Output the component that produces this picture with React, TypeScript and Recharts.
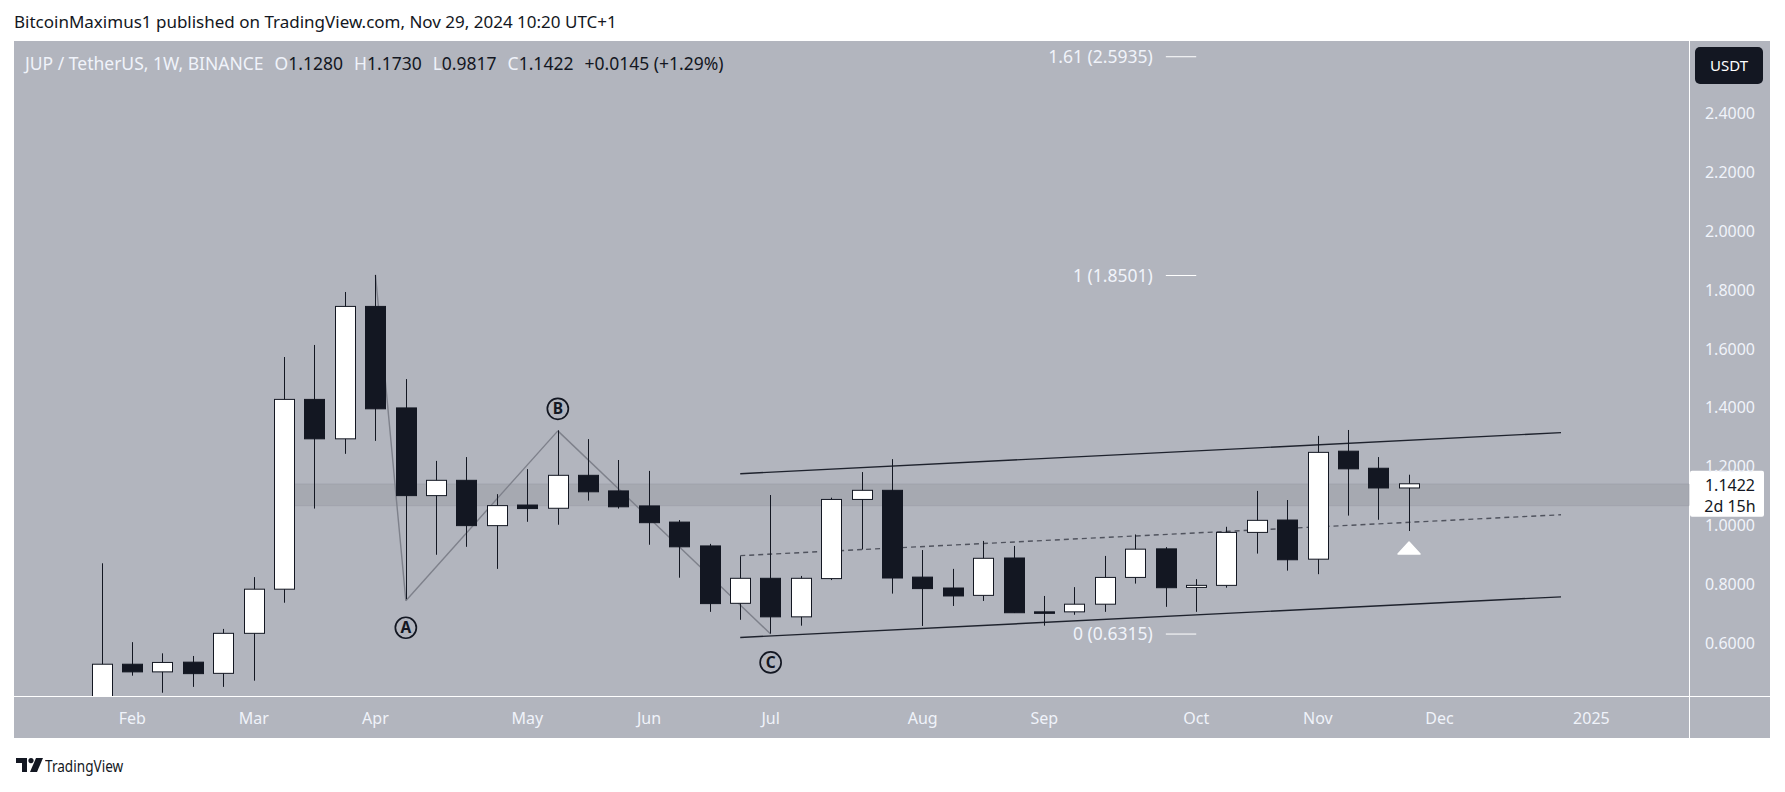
import React from "react";
import {
  ComposedChart,
  Bar,
  XAxis,
  YAxis,
  ReferenceLine,
  ReferenceArea,
  ReferenceDot,
} from "recharts";

// weekly candles, JUP / TetherUS, Binance (week start dates)
const weeks = [
  "2024-01-29", "2024-02-05", "2024-02-12", "2024-02-19", "2024-02-26",
  "2024-03-04", "2024-03-11", "2024-03-18", "2024-03-25", "2024-04-01",
  "2024-04-08", "2024-04-15", "2024-04-22", "2024-04-29", "2024-05-06",
  "2024-05-13", "2024-05-20", "2024-05-27", "2024-06-03", "2024-06-10",
  "2024-06-17", "2024-06-24", "2024-07-01", "2024-07-08", "2024-07-15",
  "2024-07-22", "2024-07-29", "2024-08-05", "2024-08-12", "2024-08-19",
  "2024-08-26", "2024-09-02", "2024-09-09", "2024-09-16", "2024-09-23",
  "2024-09-30", "2024-10-07", "2024-10-14", "2024-10-21", "2024-10-28",
  "2024-11-04", "2024-11-11", "2024-11-18", "2024-11-25",
]

const opens = [
  0.4, 0.529, 0.503, 0.536, 0.498, 0.634, 0.784, 1.429, 1.295, 1.745,
  1.4, 1.102, 1.154, 1.0, 1.07, 1.059, 1.171, 1.118, 1.067, 1.012,
  0.931, 0.736, 0.821, 0.69, 0.82, 1.089, 1.12, 0.825, 0.788, 0.763,
  0.89, 0.707, 0.707, 0.733, 0.824, 0.921, 0.79, 0.797, 0.977, 1.019,
  0.886, 1.253, 1.195, 1.128,
]
const highs = [
  0.872, 0.604, 0.566, 0.557, 0.649, 0.825, 1.573, 1.614, 1.794, 1.852,
  1.498, 1.22, 1.233, 1.107, 1.192, 1.324, 1.294, 1.223, 1.186, 1.019,
  0.938, 0.896, 1.104, 0.829, 1.095, 1.182, 1.226, 0.917, 0.853, 0.948,
  0.931, 0.761, 0.791, 0.897, 0.97, 0.927, 0.818, 0.996, 1.118, 1.087,
  1.305, 1.325, 1.233, 1.173,
]
const lows = [
  0.38, 0.49, 0.432, 0.452, 0.452, 0.473, 0.738, 1.058, 1.244, 1.288,
  0.75, 0.901, 0.928, 0.853, 1.013, 1.003, 1.085, 1.058, 0.935, 0.823,
  0.707, 0.68, 0.633, 0.66, 0.815, 0.919, 0.769, 0.659, 0.727, 0.744,
  0.703, 0.66, 0.697, 0.707, 0.803, 0.724, 0.707, 0.789, 0.905, 0.847,
  0.835, 1.034, 1.02, 0.9817,
]
const closes = [
  0.529, 0.503, 0.535, 0.497, 0.634, 0.784, 1.429, 1.295, 1.745, 1.397,
  1.102, 1.154, 1.0, 1.068, 1.058, 1.171, 1.115, 1.064, 1.01, 0.928,
  0.735, 0.821, 0.69, 0.821, 1.089, 1.12, 0.822, 0.786, 0.761, 0.889,
  0.704, 0.704, 0.733, 0.824, 0.92, 0.789, 0.797, 0.977, 1.018, 0.884,
  1.249, 1.193, 1.128, 1.1422,
]

// time axis: bar index of the first week of each month
const monthTicks = [1, 5, 9, 14, 18, 22, 27, 31, 36, 40, 44, 49]
const monthLabels = ["Feb", "Mar", "Apr", "May", "Jun", "Jul", "Aug", "Sep", "Oct", "Nov", "Dec", "2025"]

const priceTicks = [0.6, 0.8, 1.0, 1.2, 1.4, 1.6, 1.8, 2.0, 2.2, 2.4]

// drawings: [bar index, price]
const channelTop = [[21, 1.1765], [48, 1.316]]
const channelBottom = [[21, 0.62], [48, 0.758]]
const channelMid = [[21, 0.898], [48, 1.037]]
const abcPath = [[9, 1.852], [10, 0.745], [15, 1.322], [22, 0.6315]]
const abcLabels = [
  { text: "A", x: 10, y: 0.653 },
  { text: "B", x: 15, y: 1.397 },
  { text: "C", x: 22, y: 0.535 },
]
const fibLevels = [
  { ratio: "1.61", price: 2.5935 },
  { ratio: "1", price: 1.8501 },
  { ratio: "0", price: 0.6315 },
]
const zone = [1.0677, 1.1415]

const data = weeks.map((week, i) => ({
  i,
  week,
  open: opens[i],
  high: highs[i],
  low: lows[i],
  close: closes[i],
  range: [lows[i], highs[i]],
}))
const last = data[data.length - 1]

const INK = "#131722"
const PANEL = "#b2b5be"
const LIGHT = "#f0f3fa"
const FONT = '"Noto Sans", "Open Sans", sans-serif'

function Candle(props: any) {
  const { x, y, width, height, payload } = props
  if (!payload) return null
  const { open, high, low, close } = payload
  const top = Math.min(y, y + height)
  const bottom = Math.max(y, y + height)
  const k = (bottom - top) / (high - low)
  const yOf = (v: number) => top + (high - v) * k
  const left = Math.round(x)
  const cx = left + width / 2
  const up = close >= open
  const bTop = yOf(Math.max(open, close))
  const bBot = yOf(Math.min(open, close))
  const h = Math.max(bBot - bTop, 1.5)
  return (
    <g>
      <line x1={cx} x2={cx} y1={top} y2={bottom} stroke={INK} strokeWidth={1} />
      <rect
        x={left + 0.5}
        y={bTop}
        width={width - 1}
        height={h}
        fill={up ? "#ffffff" : INK}
        stroke={INK}
        strokeWidth={1}
      />
    </g>
  )
}

function TimeTick(props: any) {
  const { x, y, payload } = props
  const idx = monthTicks.indexOf(payload.value)
  return (
    <text x={x} y={y + 28} textAnchor="middle" fill={LIGHT} fontSize={16} fontFamily={FONT}>
      {monthLabels[idx]}
    </text>
  )
}

function PriceTick(props: any) {
  const { x, y, payload } = props
  return (
    <text x={x + 41} y={y + 5.5} textAnchor="middle" fill={LIGHT} fontSize={16} fontFamily={FONT}>
      {Number(payload.value).toFixed(4)}
    </text>
  )
}

function PriceTag(props: any) {
  const vb = props.viewBox || {}
  const right = vb.x + vb.width
  const cy = vb.y
  return (
    <g>
      <rect x={right + 1} y={cy - 13} width={74} height={46} fill="#ffffff" rx={2} />
      <text x={right + 41} y={cy + 7} textAnchor="middle" fill={INK} fontSize={16} fontFamily={FONT}>
        {last.close.toFixed(4)}
      </text>
      <text x={right + 41} y={cy + 28} textAnchor="middle" fill={INK} fontSize={16} fontFamily={FONT}>
        2d 15h
      </text>
    </g>
  )
}

function CircleLetter(text: string) {
  return (props: any) => {
    const { cx, cy } = props
    return (
      <g>
        <circle cx={cx} cy={cy} r={10.5} fill="none" stroke={INK} strokeWidth={1.7} />
        <text x={cx} y={cy + 5.5} textAnchor="middle" fill={INK} fontSize={15.5} fontWeight={700} fontFamily={FONT}>
          {text}
        </text>
      </g>
    )
  }
}

function UpArrow(props: any) {
  const { cx, cy } = props
  return (
    <path
      d={`M${cx - 11} ${cy + 6} L${cx} ${cy - 6} L${cx + 11} ${cy + 6} Z`}
      fill="#ffffff"
      stroke="#ffffff"
      strokeWidth={1.5}
      strokeLinejoin="round"
    />
  )
}

function seg(p: number[][]) {
  return p.map(([x, y]) => ({ x, y }))
}

// drawings sit under the candles
const UNDER = 250

export default function App() {
  return (
    <div style={{ position: "absolute", left: 0, top: 0, width: 1785, height: 792, background: "#ffffff", fontFamily: FONT }}>
      {/* panel backgrounds, white gaps act as separators */}
      <div style={{ position: "absolute", left: 14, top: 41, width: 1675, height: 655, background: PANEL }} />
      <div style={{ position: "absolute", left: 1690, top: 41, width: 80, height: 655, background: PANEL }} />
      <div style={{ position: "absolute", left: 14, top: 697, width: 1675, height: 41, background: PANEL }} />
      <div style={{ position: "absolute", left: 1690, top: 697, width: 80, height: 41, background: PANEL }} />

      <div style={{ position: "absolute", left: 14, top: 10, fontSize: 17, color: INK, whiteSpace: "nowrap" }}>
        BitcoinMaximus1 published on TradingView.com, Nov 29, 2024 10:20 UTC+1
      </div>

      <div style={{ position: "absolute", left: 25, top: 51, fontSize: 17.5, color: INK, whiteSpace: "nowrap" }}>
        <span style={{ color: LIGHT }}>JUP / TetherUS, 1W, BINANCE</span>
        <span style={{ marginLeft: 11, color: LIGHT }}>O</span>
        <span>{last.open.toFixed(4)}</span>
        <span style={{ marginLeft: 11, color: LIGHT }}>H</span>
        <span>{last.high.toFixed(4)}</span>
        <span style={{ marginLeft: 11, color: LIGHT }}>L</span>
        <span>{last.low.toFixed(4)}</span>
        <span style={{ marginLeft: 11, color: LIGHT }}>C</span>
        <span>{last.close.toFixed(4)}</span>
        <span style={{ marginLeft: 11 }}>+0.0145 (+1.29%)</span>
      </div>

      <div
        style={{
          position: "absolute",
          left: 1695,
          top: 47,
          width: 68,
          height: 37,
          background: INK,
          borderRadius: 5,
          color: "#ffffff",
          fontSize: 15,
          lineHeight: "37px",
          textAlign: "center",
        }}
      >
        USDT
      </div>

      <div style={{ position: "absolute", left: 0, top: 0 }}>
        <ComposedChart width={1785} height={792} data={data} margin={{ top: 41, right: 15, bottom: 54, left: 14 }}>
          <XAxis
            dataKey="i"
            type="number"
            domain={[-2.89, 52.21]}
            allowDataOverflow
            ticks={monthTicks}
            interval={0}
            height={42}
            axisLine={false}
            tickLine={false}
            tickSize={0}
            tickMargin={0}
            tick={<TimeTick />}
          />
          <YAxis
            orientation="right"
            domain={[0.421, 2.647]}
            allowDataOverflow
            ticks={priceTicks}
            interval={0}
            width={81}
            axisLine={false}
            tickLine={false}
            tickSize={0}
            tickMargin={0}
            tick={<PriceTick />}
          />

          <ReferenceArea
            x1={6}
            y1={zone[0]}
            y2={zone[1]}
            fill="#8e919a"
            fillOpacity={0.35}
            stroke="#9a9da6"
            strokeOpacity={0.6}
            ifOverflow="visible"
          />

          <ReferenceLine segment={seg(channelTop)} stroke="#1e222d" strokeWidth={1.4} zIndex={UNDER} />
          <ReferenceLine segment={seg(channelBottom)} stroke="#1e222d" strokeWidth={1.4} zIndex={UNDER} />
          <ReferenceLine
            segment={seg(channelMid)}
            stroke="#50535e"
            strokeWidth={1.4}
            strokeDasharray="5 4"
            zIndex={UNDER}
          />

          {abcPath.slice(1).map((p, k) => (
            <ReferenceLine
              key={`abc-${k}`}
              segment={seg([abcPath[k], p])}
              stroke="#7e818b"
              strokeWidth={1.4}
              zIndex={UNDER}
            />
          ))}

          <Bar dataKey="range" barSize={21} shape={<Candle />} isAnimationActive={false} />

          {abcLabels.map((l) => (
            <ReferenceDot key={l.text} x={l.x} y={l.y} r={10} shape={CircleLetter(l.text)} />
          ))}

          {fibLevels.map((f) => (
            <ReferenceLine
              key={f.ratio}
              segment={[{ x: 35, y: f.price }, { x: 36, y: f.price }]}
              stroke="#ffffff"
              strokeWidth={1}
              label={{
                value: `${f.ratio} (${f.price.toFixed(4)})`,
                position: "left",
                offset: 13,
                fill: LIGHT,
                fontSize: 17.5,
                fontFamily: FONT,
              }}
            />
          ))}

          <ReferenceDot x={43} y={0.924} r={8} shape={<UpArrow />} />

          <ReferenceLine y={last.close} stroke="none" label={(p: any) => <PriceTag {...p} />} />
        </ComposedChart>
      </div>

      <svg style={{ position: "absolute", left: 16, top: 758 }} width={28} height={16}>
        <path d="M0 0 H11 V14 H6 V5 H0 Z" fill={INK} />
        <circle cx={15} cy={2.6} r={2.6} fill={INK} />
        <path d="M20 0 H27 L21 14 H14 Z" fill={INK} />
      </svg>
      <div
        style={{
          position: "absolute",
          left: 45,
          top: 754,
          fontSize: 17,
          color: INK,
          whiteSpace: "nowrap",
          transform: "scaleX(0.8)",
          transformOrigin: "0 0",
        }}
      >
        TradingView
      </div>
    </div>
  )
}
